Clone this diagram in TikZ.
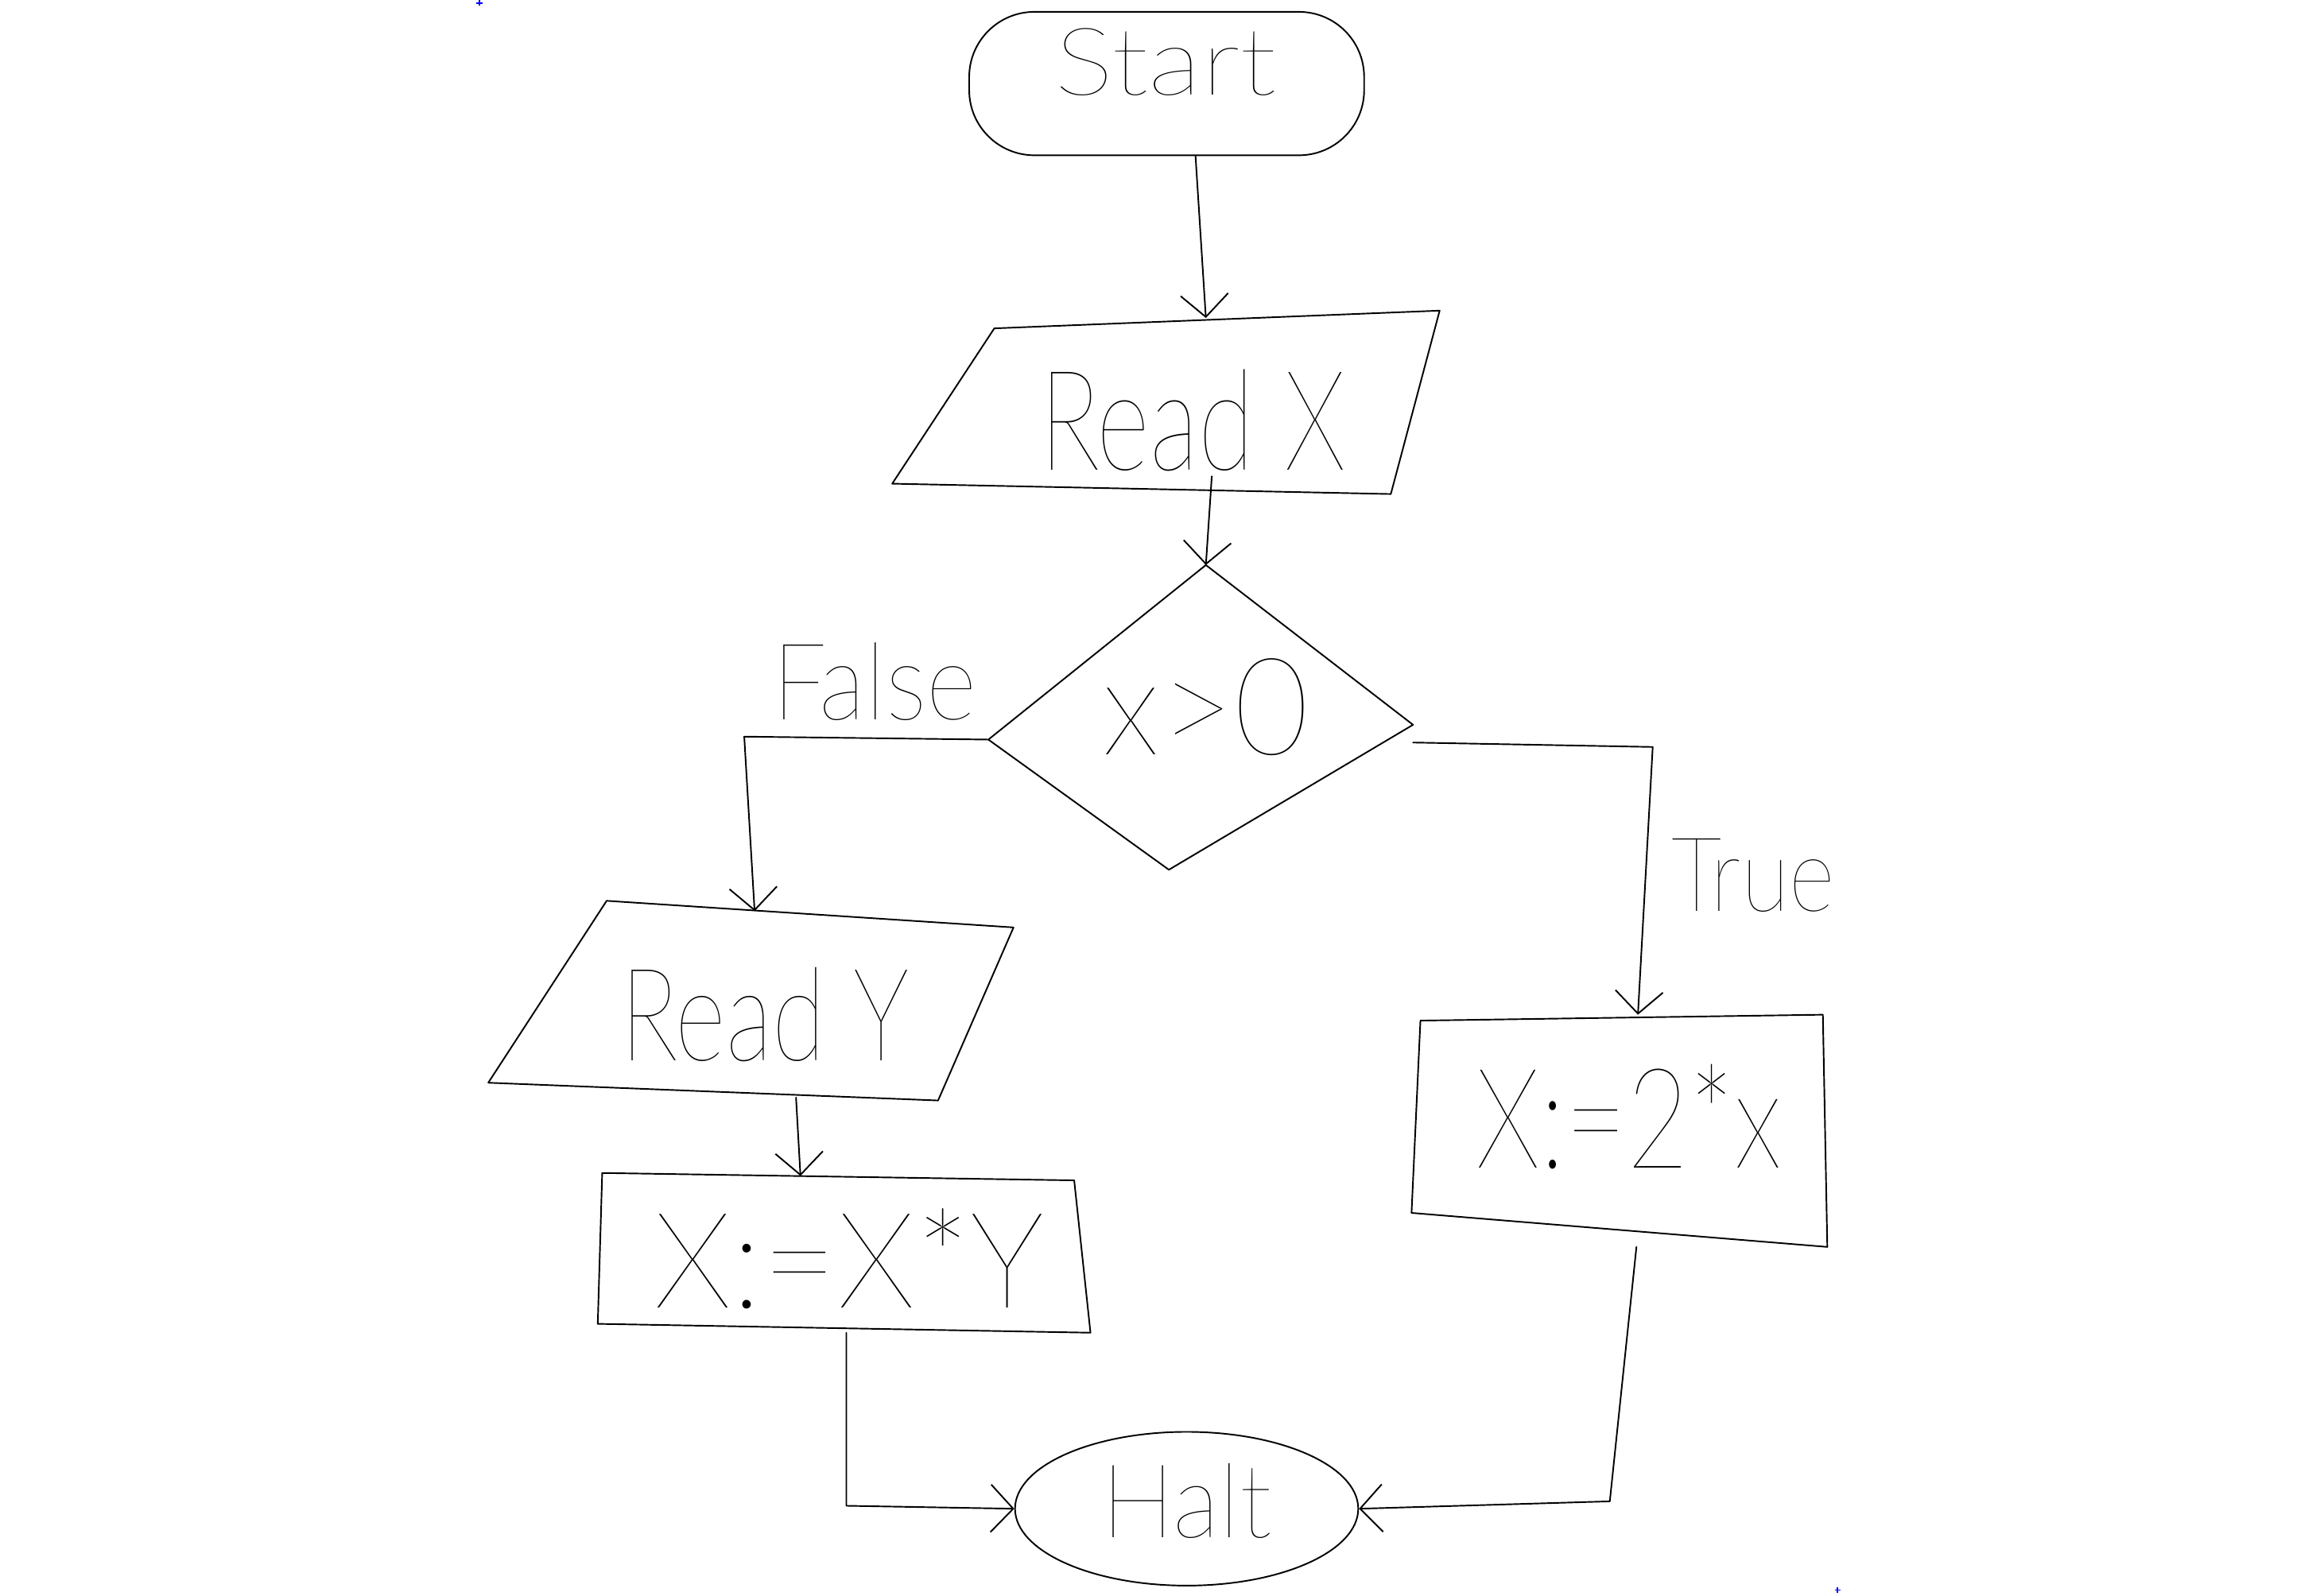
\documentclass[tikz,border=0pt]{standalone}
\usepackage{fontspec}
\usepackage{graphicx}
\usetikzlibrary{arrows.meta,shapes.geometric}
\newfontfamily\hand{Lato Hairline}
\newlength{\uu}\setlength{\uu}{0.01861cm}
% text stretched to an exact width and height (in drawing units)
\newcommand{\fitlabel}[3]{\resizebox{#1\uu}{#2\uu}{\hand #3}}
\tikzset{
  ink/.style={line width=0.55pt, line join=round, line cap=round},
  flow/.style={ink, -{Straight Barb[length=8pt,width=17pt,line width=0.55pt]}},
  lbl/.style={inner sep=0pt, outer sep=0pt},
  mark cross/.style={blue, line width=0.5pt},
}
\begin{document}
\begin{tikzpicture}[x=0.01861cm, y=-0.01861cm]
\useasboundingbox (0,0) rectangle (1568,1079);

% terminals
\node[ink, draw, rounded corners=0.82cm, minimum width=4.969cm, minimum height=1.805cm, inner sep=0pt] (start) at (788.5,56.5) {};
\node[ink, draw, ellipse, minimum width=4.318cm, minimum height=1.935cm, inner sep=0pt] (halt) at (802,1020) {};

% input, decision and process outlines
\draw[ink] (672,222) -- (973,210) -- (940,334) -- (603,327) -- cycle;   % Read X
\draw[ink] (815,382) -- (955,490) -- (790,588) -- (668,500) -- cycle;   % x>0
\draw[ink] (410,609) -- (685,627) -- (634,744) -- (330,732) -- cycle;   % Read Y
\draw[ink] (407,793) -- (726,798) -- (737,901) -- (404,895) -- cycle;   % X:=X*Y
\draw[ink] (960,690) -- (1232,686) -- (1235,843) -- (954,820) -- cycle; % X:=2*x

% texts
\node[lbl] (startlbl) at (788,42)   {\fitlabel{150}{45}{Start}};
\node[lbl] (readx)    at (806,284)  {\fitlabel{207}{68}{Read X}};
\node[lbl] (cond)     at (815,478)  {\fitlabel{140}{65}{x>0}};
\node[lbl] (falselbl) at (591,461)  {\fitlabel{138}{52}{False}};
\node[lbl] (truelbl)  at (1185,592) {\fitlabel{110}{49}{True}};
\node[lbl] (ready)    at (517,686)  {\fitlabel{195}{63}{Read Y}};
\node[lbl] (xxy)      at (574,851)  {\fitlabel{264}{67}{X:=X*Y}};
\node[lbl] (xtwo)     at (1101,755) {\fitlabel{207}{70}{X:=2*x}};
\node[lbl] (haltlbl)  at (802,1015) {\fitlabel{115}{50}{Halt}};

% connector end points on the outlines
\coordinate (readxT) at (815,215);
\coordinate (readxB) at (819,322);
\coordinate (condT)  at (815,382);
\coordinate (condL)  at (668,500);
\coordinate (condR)  at (955,502);
\coordinate (readyT) at (510,616);
\coordinate (readyB) at (538,742);
\coordinate (xxyT)   at (541,795);
\coordinate (xxyB)   at (572,901);
\coordinate (xtwoT)  at (1107,686);
\coordinate (xtwoB)  at (1106,843);

% flow lines
\draw[flow] ([xshift=0.363cm]start.south) -- (readxT);
\draw[flow] (readxB) -- (condT);
\draw[flow] (condL) -- (503,498) -- (readyT);
\draw[flow] (condR) -- (1117,505) -- (xtwoT);
\draw[flow] (readyB) -- (xxyT);
\draw[flow] (xxyB) -- (572,1018) -- (halt.west);
\draw[flow] (xtwoB) -- (1088,1015) -- (halt.east);

% small corner marks
\draw[mark cross] (322,2) -- (326,2) (324,0) -- (324,4);
\draw[mark cross] (1240,1075) -- (1244,1075) (1242,1073) -- (1242,1077);
\end{tikzpicture}
\end{document}
